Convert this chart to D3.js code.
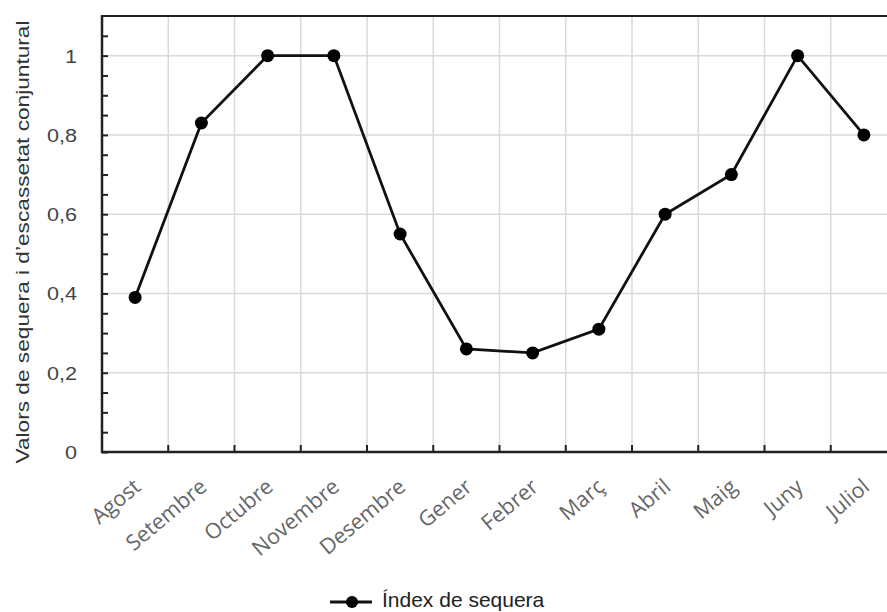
<!DOCTYPE html>
<html>
<head>
<meta charset="utf-8">
<script src="https://cdn.jsdelivr.net/npm/d3@7"></script>
<style>
  body { margin: 0; background: #fff; }
  svg { display: block; }
</style>
</head>
<body>
<div id="chart"></div>
<script>
// dades
var mesos = ["Agost", "Setembre", "Octubre", "Novembre", "Desembre", "Gener",
             "Febrer", "Març", "Abril", "Maig", "Juny", "Juliol"];
var valors = [0.39, 0.83, 1, 1, 0.55, 0.26, 0.25, 0.31, 0.6, 0.7, 1, 0.8];
var yTicks = [0, 0.2, 0.4, 0.6, 0.8, 1];
var yMinor = d3.range(0, 1.1, 0.05);
var serieNom = "Índex de sequera";
var yTitol = "Valors de sequera i d’escassetat conjuntural";

var width = 887, height = 612;
var mLeft = 102, mTop = 16, mRight = 897, mBottom = 452;

var svg = d3.select("#chart").append("svg")
    .attr("width", width)
    .attr("height", height);

var x = d3.scaleBand().domain(mesos).range([mLeft, mRight]);
var y = d3.scaleLinear().domain([0, 1.1]).range([mBottom, mTop]);

// graella
svg.append("g").selectAll("line")
    .data(yTicks.filter(function(d) { return d > 0; }))
    .join("line")
    .attr("x1", mLeft).attr("x2", mRight)
    .attr("y1", function(d) { return y(d); })
    .attr("y2", function(d) { return y(d); })
    .attr("stroke", "#d9d9d9").attr("stroke-width", 1.5);

svg.append("g").selectAll("line")
    .data(mesos.slice(1))
    .join("line")
    .attr("x1", function(d) { return x(d); })
    .attr("x2", function(d) { return x(d); })
    .attr("y1", mTop).attr("y2", mBottom)
    .attr("stroke", "#d9d9d9").attr("stroke-width", 1.5);

// vora superior
svg.append("line")
    .attr("x1", mLeft).attr("x2", mRight)
    .attr("y1", mTop).attr("y2", mTop)
    .attr("stroke", "#222").attr("stroke-width", 2);

// eix Y
var yAxis = d3.axisRight(y).tickValues(yMinor).tickSize(6).tickFormat("");
var gy = svg.append("g")
    .attr("transform", "translate(" + mLeft + ",0)")
    .call(yAxis);
gy.select(".domain").remove();
gy.selectAll(".tick line").attr("stroke", "#222").attr("stroke-width", 2);
svg.append("line")
    .attr("x1", mLeft).attr("x2", mLeft)
    .attr("y1", mTop - 1).attr("y2", mBottom + 1)
    .attr("stroke", "#222").attr("stroke-width", 2.5);

svg.append("g").selectAll("text")
    .data(yTicks)
    .join("text")
    .attr("transform", function(d) {
        return "translate(77," + (y(d) + 7) + ") scale(1.2,1)";
    })
    .attr("text-anchor", "end")
    .attr("font-family", "Liberation Sans, Arial, sans-serif")
    .attr("font-size", 18)
    .attr("fill", "#444")
    .text(function(d) { return d3.format("")(d).replace(".", ","); });

// eix X
var gx = svg.append("g")
    .attr("transform", "translate(0," + mBottom + ")");
gx.selectAll("line")
    .data(mesos.slice(1))
    .join("line")
    .attr("x1", function(d) { return x(d); })
    .attr("x2", function(d) { return x(d); })
    .attr("y1", 0).attr("y2", -7)
    .attr("stroke", "#222").attr("stroke-width", 2);
svg.append("line")
    .attr("x1", mLeft - 1).attr("x2", mRight)
    .attr("y1", mBottom).attr("y2", mBottom)
    .attr("stroke", "#222").attr("stroke-width", 2.5);

gx.selectAll("text")
    .data(mesos)
    .join("text")
    .attr("transform", function(d) {
        return "translate(" + (x(d) + x.bandwidth() / 2 + 7) + ",37) rotate(-40)";
    })
    .attr("text-anchor", "end")
    .attr("font-family", "Open Sans, Lato, sans-serif")
    .attr("font-size", 21.5)
    .attr("fill", "#666")
    .text(function(d) { return d; });

// títol eix Y
svg.append("text")
    .attr("transform", "translate(29,242) rotate(-90)")
    .attr("text-anchor", "middle")
    .attr("font-family", "Liberation Sans, Arial, sans-serif")
    .attr("font-size", 18)
    .attr("textLength", 443)
    .attr("lengthAdjust", "spacingAndGlyphs")
    .attr("fill", "#333")
    .text(yTitol);

// línia
var cx = function(d, i) { return x(mesos[i]) + x.bandwidth() / 2; };
var line = d3.line()
    .x(cx)
    .y(function(d) { return y(d); });

svg.append("path")
    .attr("d", line(valors))
    .attr("fill", "none")
    .attr("stroke", "#111")
    .attr("stroke-width", 2.8);

svg.append("g").selectAll("circle")
    .data(valors)
    .join("circle")
    .attr("cx", cx)
    .attr("cy", function(d) { return y(d); })
    .attr("r", 6.5)
    .attr("fill", "#000");

// llegenda
var lg = svg.append("g").attr("transform", "translate(330,602)");
lg.append("line").attr("x1", 0).attr("x2", 42)
    .attr("stroke", "#111").attr("stroke-width", 2.8);
lg.append("circle").attr("cx", 22).attr("r", 6).attr("fill", "#000");
lg.append("text")
    .attr("x", 52).attr("y", 5)
    .attr("font-family", "Liberation Sans, Arial, sans-serif")
    .attr("font-size", 21)
    .attr("fill", "#222")
    .text(serieNom);
</script>
</body>
</html>
